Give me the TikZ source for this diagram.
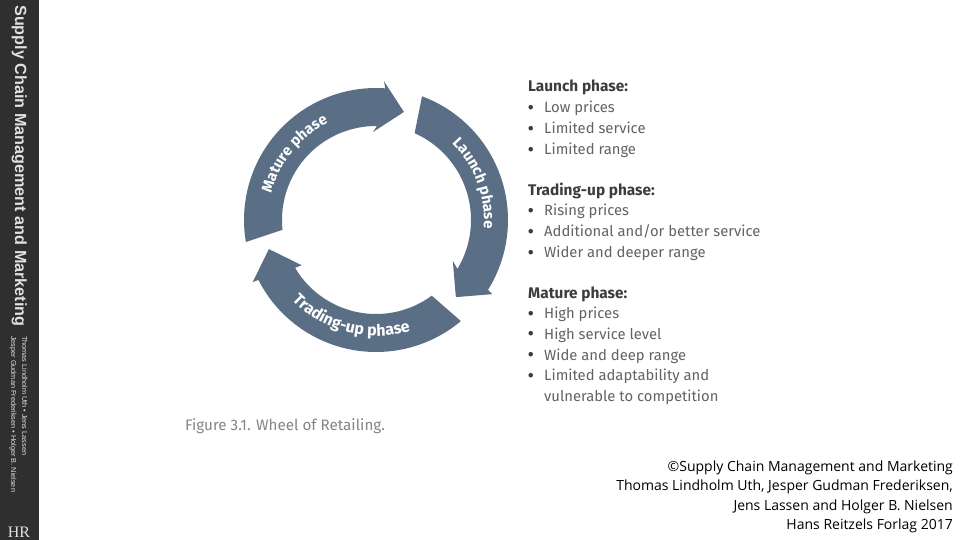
\documentclass[tikz,border=0pt]{standalone}
\usepackage{fontspec}
\usetikzlibrary{decorations.text}
\setmainfont{Fira Sans}
\newfontfamily\capfont{Open Sans}
\newfontfamily\sidefont{Liberation Sans}
\newfontfamily\logofont{Liberation Serif}
\definecolor{wheel}{HTML}{5A6F85}
\definecolor{sidebar}{HTML}{2F2F2F}
\definecolor{body}{HTML}{5F6468}
\definecolor{head}{HTML}{3A3D40}
\tikzset{
  x=1pt,y=-1pt,
  arrowpart/.style={fill=wheel,draw=none},
  arcword/.style={decorate,decoration={text along path,text align=center,text={|\fontsize{15}{15}\selectfont\bfseries\color{white}|#1}}},
  arcwordbig/.style={decorate,decoration={text along path,text align=center,text={|\fontsize{16}{16}\selectfont\bfseries\color{white}|#1}}},
  phasehead/.style={anchor=base west,inner sep=0pt,text=head,font=\fontsize{15.4}{16}\selectfont\bfseries},
  phaseline/.style={anchor=base west,inner sep=0pt,text=body,font=\fontsize{14.8}{15}\selectfont},
  bulletdot/.style={anchor=base west,inner sep=0pt,text=head,font=\fontsize{20}{20}\selectfont},
  credit/.style={anchor=base east,inner sep=0pt,text=black,font=\capfont\fontsize{14}{15}\selectfont},
  sidetext/.style={rotate=-90,anchor=base west,inner sep=0pt,text=white!88!black},
}
\begin{document}
\begin{tikzpicture}
\useasboundingbox (0,0) rectangle (960,540);
\fill[white] (0,0) rectangle (960,540);
\fill[sidebar] (0,0) rectangle (39,540);
% Launch
\fill[arrowpart] plot[smooth,samples=30,domain=69.6:-32] ({376+132*cos(\x)},{220-132*sin(\x)})
  -- ({376+138*cos(-32.5)},{220-138*sin(-32.5)}) -- ({376+111*cos(-44)},{220-111*sin(-44)}) -- ({376+87*cos(-28)},{220-87*sin(-28)})
  -- plot[smooth,samples=30,domain=-31:66] ({376+95*cos(\x)},{220-95*sin(\x)}) -- cycle;
% Trading-up
\fill[arrowpart] plot[smooth,samples=30,domain=-50:-153] ({376+132*cos(\x)},{220-132*sin(\x)})
  -- ({376+138*cos(-153.3)},{220-138*sin(-153.3)}) -- ({376+111*cos(-164.8)},{220-111*sin(-164.8)}) -- ({376+87*cos(-148.7)},{220-87*sin(-148.7)})
  -- plot[smooth,samples=30,domain=-149.4:-53.6] ({376+94*cos(\x)},{220-94*sin(\x)}) -- cycle;
% Mature
\fill[arrowpart] plot[smooth,samples=30,domain=189.6:86] ({376+132*cos(\x)},{220-132*sin(\x)})
  -- ({376+139*cos(86.7)},{220-139*sin(86.7)}) -- ({376+111.6*cos(75.5)},{220-111.6*sin(75.5)}) -- ({376+88*cos(92)},{220-88*sin(92)})
  -- plot[smooth,samples=30,domain=89.4:186] ({376+94*cos(\x)},{220-94*sin(\x)}) -- cycle;
% Wheel labels
\path[arcword={Mature phase}] ({376+108*cos(190)},{220-108*sin(190)}) arc[start angle=190,end angle=92,radius=108pt];
\path[arcword={Launch phase}] ({376+108*cos(59.5)},{220-108*sin(59.5)}) arc[start angle=59.5,end angle=-18.5,radius=108pt];
\path[arcwordbig={Trading-up phase}] ({376+116*cos(-147)},{220-116*sin(-147)}) arc[start angle=-147,end angle=-62,radius=116pt];
% Figure caption
\node[anchor=base west,inner sep=0pt,text=black!48,font=\fontsize{15.2}{16}\selectfont] (fig) at (185,430) {Figure 3.1. Wheel of Retailing.};
% Phase lists
\node[phasehead] (h1) at (528,92) {Launch phase:};
\foreach \yy/\lab in {112.5/{Low prices},133.5/{Limited service},154.5/{Limited range},
  215.5/{Rising prices},236.5/{Additional and{/}or better service},257.5/{Wider and deeper range},
  318.5/{High prices},339/{High service level},360/{Wide and deep range},380.5/{Limited adaptability and}}{
  \node[bulletdot] at (527.5,\yy+1.8) {•};
  \node[phaseline] at (544,\yy) {\lab};
}
\node[phasehead] (h2) at (528,196) {Trading-up phase:};
\node[phasehead] (h3) at (528,298) {Mature phase:};
\node[phaseline] (last) at (544,401.5) {vulnerable to competition};
% Credit
\node[credit] (c1) at (953,471.5) {©Supply Chain Management and Marketing};
\node[credit] (c2) at (953,490.5) {Thomas Lindholm Uth, Jesper Gudman Frederiksen,};
\node[credit] (c3) at (953,510.5) {Jens Lassen and Holger B. Nielsen};
\node[credit] (c4) at (953,529.5) {Hans Reitzels Forlag 2017};
% Side bar text
\node[sidetext,font=\sidefont\bfseries\fontsize{16.2}{17}\selectfont] (s1) at (15,5) {Supply Chain Management and Marketing};
\node[sidetext,font=\sidefont\fontsize{7.3}{8}\selectfont] (s2) at (22,336) {Thomas Lindholm Uth • Jens Lassen};
\node[sidetext,font=\sidefont\fontsize{7.3}{8}\selectfont] (s3) at (11,336) {Jesper Gudman Frederiksen • Holger B. Nielsen};
\node[anchor=base,inner sep=0pt,text=white!88!black,font=\logofont\fontsize{16}{16}\selectfont] (s4) at (19,537) {HR};
\end{tikzpicture}
\end{document}
